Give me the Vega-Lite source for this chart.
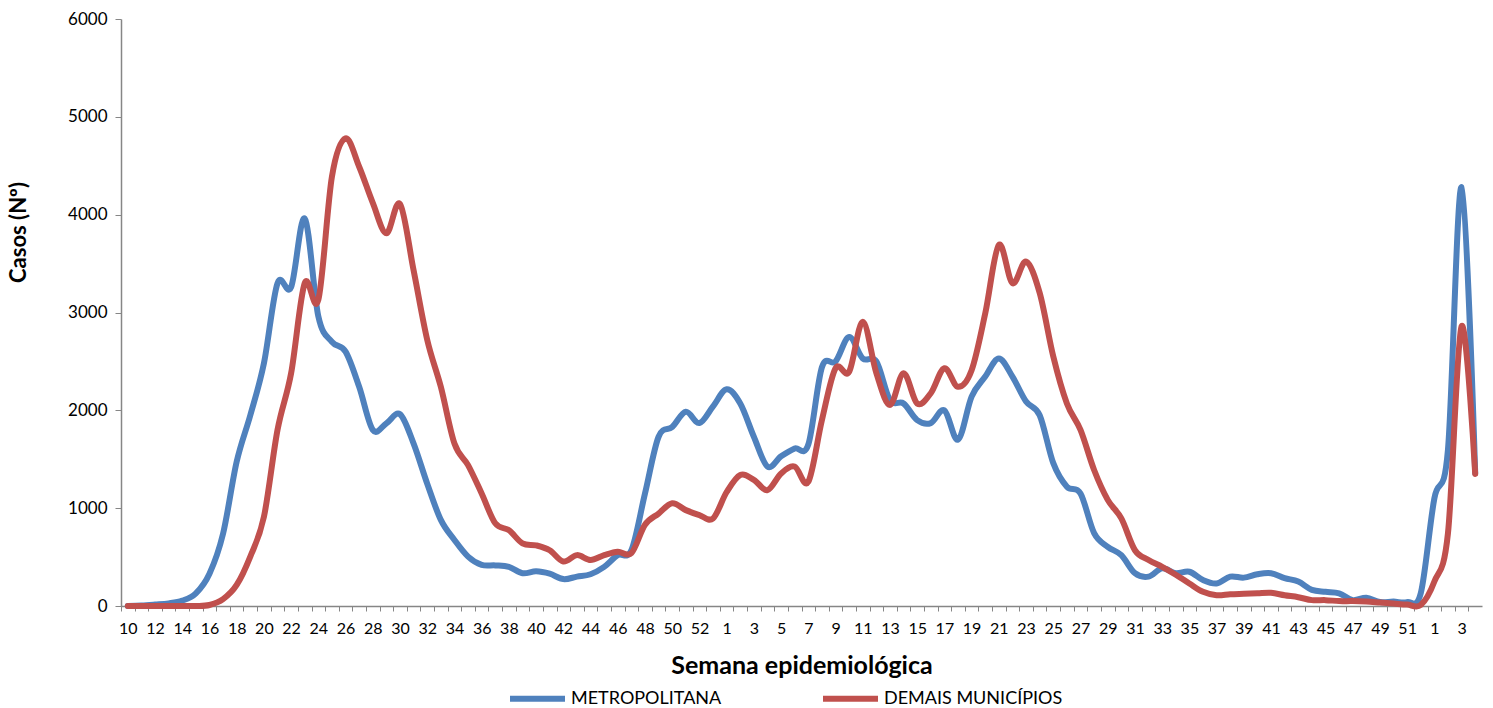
{
  "$schema": "https://vega.github.io/schema/vega-lite/v6.json",
  "width": 1361,
  "height": 587,
  "autosize": {"type": "none"},
  "padding": {"left": 121, "top": 19, "right": 11, "bottom": 102},
  "background": "white",
  "config": {"font": "Lato", "view": {"stroke": null}},
  "data": {"values": [
    {"sem": "2020-10", "METROPOLITANA": 0, "DEMAIS MUNICÍPIOS": 0},
    {"sem": "2020-11", "METROPOLITANA": 5, "DEMAIS MUNICÍPIOS": 0},
    {"sem": "2020-12", "METROPOLITANA": 15, "DEMAIS MUNICÍPIOS": 0},
    {"sem": "2020-13", "METROPOLITANA": 27, "DEMAIS MUNICÍPIOS": 0},
    {"sem": "2020-14", "METROPOLITANA": 55, "DEMAIS MUNICÍPIOS": 0},
    {"sem": "2020-15", "METROPOLITANA": 130, "DEMAIS MUNICÍPIOS": 0},
    {"sem": "2020-16", "METROPOLITANA": 330, "DEMAIS MUNICÍPIOS": 10},
    {"sem": "2020-17", "METROPOLITANA": 740, "DEMAIS MUNICÍPIOS": 70},
    {"sem": "2020-18", "METROPOLITANA": 1475, "DEMAIS MUNICÍPIOS": 215},
    {"sem": "2020-19", "METROPOLITANA": 1950, "DEMAIS MUNICÍPIOS": 505},
    {"sem": "2020-20", "METROPOLITANA": 2480, "DEMAIS MUNICÍPIOS": 910},
    {"sem": "2020-21", "METROPOLITANA": 3300, "DEMAIS MUNICÍPIOS": 1800},
    {"sem": "2020-22", "METROPOLITANA": 3260, "DEMAIS MUNICÍPIOS": 2380},
    {"sem": "2020-23", "METROPOLITANA": 3960, "DEMAIS MUNICÍPIOS": 3300},
    {"sem": "2020-24", "METROPOLITANA": 2960, "DEMAIS MUNICÍPIOS": 3130},
    {"sem": "2020-25", "METROPOLITANA": 2700, "DEMAIS MUNICÍPIOS": 4390},
    {"sem": "2020-26", "METROPOLITANA": 2600, "DEMAIS MUNICÍPIOS": 4780},
    {"sem": "2020-27", "METROPOLITANA": 2240, "DEMAIS MUNICÍPIOS": 4490},
    {"sem": "2020-28", "METROPOLITANA": 1800, "DEMAIS MUNICÍPIOS": 4120},
    {"sem": "2020-29", "METROPOLITANA": 1867, "DEMAIS MUNICÍPIOS": 3810},
    {"sem": "2020-30", "METROPOLITANA": 1960, "DEMAIS MUNICÍPIOS": 4110},
    {"sem": "2020-31", "METROPOLITANA": 1660, "DEMAIS MUNICÍPIOS": 3430},
    {"sem": "2020-32", "METROPOLITANA": 1250, "DEMAIS MUNICÍPIOS": 2720},
    {"sem": "2020-33", "METROPOLITANA": 880, "DEMAIS MUNICÍPIOS": 2240},
    {"sem": "2020-34", "METROPOLITANA": 675, "DEMAIS MUNICÍPIOS": 1660},
    {"sem": "2020-35", "METROPOLITANA": 505, "DEMAIS MUNICÍPIOS": 1440},
    {"sem": "2020-36", "METROPOLITANA": 420, "DEMAIS MUNICÍPIOS": 1150},
    {"sem": "2020-37", "METROPOLITANA": 415, "DEMAIS MUNICÍPIOS": 845},
    {"sem": "2020-38", "METROPOLITANA": 400, "DEMAIS MUNICÍPIOS": 775},
    {"sem": "2020-39", "METROPOLITANA": 335, "DEMAIS MUNICÍPIOS": 640},
    {"sem": "2020-40", "METROPOLITANA": 355, "DEMAIS MUNICÍPIOS": 620},
    {"sem": "2020-41", "METROPOLITANA": 330, "DEMAIS MUNICÍPIOS": 570},
    {"sem": "2020-42", "METROPOLITANA": 275, "DEMAIS MUNICÍPIOS": 455},
    {"sem": "2020-43", "METROPOLITANA": 300, "DEMAIS MUNICÍPIOS": 520},
    {"sem": "2020-44", "METROPOLITANA": 325, "DEMAIS MUNICÍPIOS": 470},
    {"sem": "2020-45", "METROPOLITANA": 400, "DEMAIS MUNICÍPIOS": 520},
    {"sem": "2020-46", "METROPOLITANA": 520, "DEMAIS MUNICÍPIOS": 555},
    {"sem": "2020-47", "METROPOLITANA": 570, "DEMAIS MUNICÍPIOS": 540},
    {"sem": "2020-48", "METROPOLITANA": 1150, "DEMAIS MUNICÍPIOS": 830},
    {"sem": "2020-49", "METROPOLITANA": 1730, "DEMAIS MUNICÍPIOS": 945},
    {"sem": "2020-50", "METROPOLITANA": 1830, "DEMAIS MUNICÍPIOS": 1050},
    {"sem": "2020-51", "METROPOLITANA": 1985, "DEMAIS MUNICÍPIOS": 980},
    {"sem": "2020-52", "METROPOLITANA": 1870, "DEMAIS MUNICÍPIOS": 930},
    {"sem": "2020-53", "METROPOLITANA": 2040, "DEMAIS MUNICÍPIOS": 895},
    {"sem": "2021-1", "METROPOLITANA": 2215, "DEMAIS MUNICÍPIOS": 1165},
    {"sem": "2021-2", "METROPOLITANA": 2070, "DEMAIS MUNICÍPIOS": 1340},
    {"sem": "2021-3", "METROPOLITANA": 1730, "DEMAIS MUNICÍPIOS": 1290},
    {"sem": "2021-4", "METROPOLITANA": 1425, "DEMAIS MUNICÍPIOS": 1185},
    {"sem": "2021-5", "METROPOLITANA": 1530, "DEMAIS MUNICÍPIOS": 1355},
    {"sem": "2021-6", "METROPOLITANA": 1610, "DEMAIS MUNICÍPIOS": 1425},
    {"sem": "2021-7", "METROPOLITANA": 1650, "DEMAIS MUNICÍPIOS": 1270},
    {"sem": "2021-8", "METROPOLITANA": 2440, "DEMAIS MUNICÍPIOS": 1900},
    {"sem": "2021-9", "METROPOLITANA": 2500, "DEMAIS MUNICÍPIOS": 2430},
    {"sem": "2021-10", "METROPOLITANA": 2750, "DEMAIS MUNICÍPIOS": 2395},
    {"sem": "2021-11", "METROPOLITANA": 2530, "DEMAIS MUNICÍPIOS": 2905},
    {"sem": "2021-12", "METROPOLITANA": 2500, "DEMAIS MUNICÍPIOS": 2380},
    {"sem": "2021-13", "METROPOLITANA": 2105, "DEMAIS MUNICÍPIOS": 2055},
    {"sem": "2021-14", "METROPOLITANA": 2070, "DEMAIS MUNICÍPIOS": 2380},
    {"sem": "2021-15", "METROPOLITANA": 1900, "DEMAIS MUNICÍPIOS": 2070},
    {"sem": "2021-16", "METROPOLITANA": 1870, "DEMAIS MUNICÍPIOS": 2175},
    {"sem": "2021-17", "METROPOLITANA": 2000, "DEMAIS MUNICÍPIOS": 2430},
    {"sem": "2021-18", "METROPOLITANA": 1700, "DEMAIS MUNICÍPIOS": 2240},
    {"sem": "2021-19", "METROPOLITANA": 2140, "DEMAIS MUNICÍPIOS": 2410},
    {"sem": "2021-20", "METROPOLITANA": 2345, "DEMAIS MUNICÍPIOS": 2990},
    {"sem": "2021-21", "METROPOLITANA": 2530, "DEMAIS MUNICÍPIOS": 3690},
    {"sem": "2021-22", "METROPOLITANA": 2345, "DEMAIS MUNICÍPIOS": 3300},
    {"sem": "2021-23", "METROPOLITANA": 2090, "DEMAIS MUNICÍPIOS": 3520},
    {"sem": "2021-24", "METROPOLITANA": 1950, "DEMAIS MUNICÍPIOS": 3200},
    {"sem": "2021-25", "METROPOLITANA": 1460, "DEMAIS MUNICÍPIOS": 2550},
    {"sem": "2021-26", "METROPOLITANA": 1220, "DEMAIS MUNICÍPIOS": 2070},
    {"sem": "2021-27", "METROPOLITANA": 1150, "DEMAIS MUNICÍPIOS": 1800},
    {"sem": "2021-28", "METROPOLITANA": 745, "DEMAIS MUNICÍPIOS": 1390},
    {"sem": "2021-29", "METROPOLITANA": 605, "DEMAIS MUNICÍPIOS": 1085},
    {"sem": "2021-30", "METROPOLITANA": 520, "DEMAIS MUNICÍPIOS": 895},
    {"sem": "2021-31", "METROPOLITANA": 335, "DEMAIS MUNICÍPIOS": 570},
    {"sem": "2021-32", "METROPOLITANA": 300, "DEMAIS MUNICÍPIOS": 470},
    {"sem": "2021-33", "METROPOLITANA": 385, "DEMAIS MUNICÍPIOS": 400},
    {"sem": "2021-34", "METROPOLITANA": 335, "DEMAIS MUNICÍPIOS": 320},
    {"sem": "2021-35", "METROPOLITANA": 350, "DEMAIS MUNICÍPIOS": 230},
    {"sem": "2021-36", "METROPOLITANA": 265, "DEMAIS MUNICÍPIOS": 145},
    {"sem": "2021-37", "METROPOLITANA": 230, "DEMAIS MUNICÍPIOS": 110},
    {"sem": "2021-38", "METROPOLITANA": 300, "DEMAIS MUNICÍPIOS": 120},
    {"sem": "2021-39", "METROPOLITANA": 290, "DEMAIS MUNICÍPIOS": 125},
    {"sem": "2021-40", "METROPOLITANA": 325, "DEMAIS MUNICÍPIOS": 130},
    {"sem": "2021-41", "METROPOLITANA": 335, "DEMAIS MUNICÍPIOS": 135},
    {"sem": "2021-42", "METROPOLITANA": 285, "DEMAIS MUNICÍPIOS": 110},
    {"sem": "2021-43", "METROPOLITANA": 250, "DEMAIS MUNICÍPIOS": 90},
    {"sem": "2021-44", "METROPOLITANA": 165, "DEMAIS MUNICÍPIOS": 60},
    {"sem": "2021-45", "METROPOLITANA": 145, "DEMAIS MUNICÍPIOS": 60},
    {"sem": "2021-46", "METROPOLITANA": 130, "DEMAIS MUNICÍPIOS": 50},
    {"sem": "2021-47", "METROPOLITANA": 60, "DEMAIS MUNICÍPIOS": 50},
    {"sem": "2021-48", "METROPOLITANA": 85, "DEMAIS MUNICÍPIOS": 45},
    {"sem": "2021-49", "METROPOLITANA": 40, "DEMAIS MUNICÍPIOS": 35},
    {"sem": "2021-50", "METROPOLITANA": 45, "DEMAIS MUNICÍPIOS": 25},
    {"sem": "2021-51", "METROPOLITANA": 40, "DEMAIS MUNICÍPIOS": 15},
    {"sem": "2021-52", "METROPOLITANA": 130, "DEMAIS MUNICÍPIOS": 10},
    {"sem": "2022-1", "METROPOLITANA": 1100, "DEMAIS MUNICÍPIOS": 250},
    {"sem": "2022-2", "METROPOLITANA": 1600, "DEMAIS MUNICÍPIOS": 745},
    {"sem": "2022-3", "METROPOLITANA": 4280, "DEMAIS MUNICÍPIOS": 2860},
    {"sem": "2022-4", "METROPOLITANA": 1360, "DEMAIS MUNICÍPIOS": 1350}
  ]},
  "transform": [
    {"fold": ["METROPOLITANA", "DEMAIS MUNICÍPIOS"], "as": ["serie", "casos"]}
  ],
  "mark": {"type": "line", "interpolate": "cardinal", "strokeWidth": 6, "strokeCap": "round", "strokeJoin": "round"},
  "encoding": {
    "x": {
      "field": "sem", "type": "ordinal", "sort": null,
      "scale": {"type": "point", "padding": 0.5},
      "axis": {
        "title": "Semana epidemiológica",
        "titleFontSize": 25, "titleFontWeight": "bold", "titleColor": "black",
        "titleY": 59, "titleBaseline": "middle",
        "labelExpr": "(split(datum.value,'-')[0]=='2020') == (toNumber(split(datum.value,'-')[1])%2==0) ? split(datum.value,'-')[1] : ''",
        "labelOverlap": false, "labelAngle": 0, "labelFontSize": 16, "labelColor": "black",
        "labelPadding": 9, "labelBound": false, "labelFlush": false,
        "tickSize": 5, "tickOffset": -6.8, "labelOffset": 6.8,
        "tickColor": "#868686", "domainColor": "#868686", "tickWidth": 1, "domainWidth": 1.5,
        "grid": false
      }
    },
    "y": {
      "field": "casos", "type": "quantitative",
      "scale": {"domain": [0, 6000], "nice": false},
      "axis": {
        "title": "Casos (Nº)", "titleFontSize": 22, "titleFontWeight": "bold", "titleColor": "black",
        "titleX": -103, "titleY": 213, "titleAngle": 270, "titleAlign": "center", "titleBaseline": "middle",
        "values": [0, 1000, 2000, 3000, 4000, 5000, 6000], "format": "d",
        "labelFontSize": 17, "labelColor": "black", "labelPadding": 8,
        "tickSize": 6, "tickColor": "#868686", "domainColor": "#868686", "domainWidth": 1.5,
        "grid": false
      }
    },
    "color": {
      "field": "serie", "type": "nominal",
      "scale": {"domain": ["METROPOLITANA", "DEMAIS MUNICÍPIOS"], "range": ["#4F81BD", "#C0504D"]},
      "legend": {
        "title": null, "orient": "none", "direction": "horizontal",
        "legendX": 386, "legendY": 649,
        "symbolType": "stroke", "symbolSize": 3025, "symbolStrokeWidth": 6,
        "labelFontSize": 18, "labelColor": "black", "labelOffset": 3, "labelLimit": 400,
        "columnPadding": 89, "padding": 0
      }
    }
  }
}
